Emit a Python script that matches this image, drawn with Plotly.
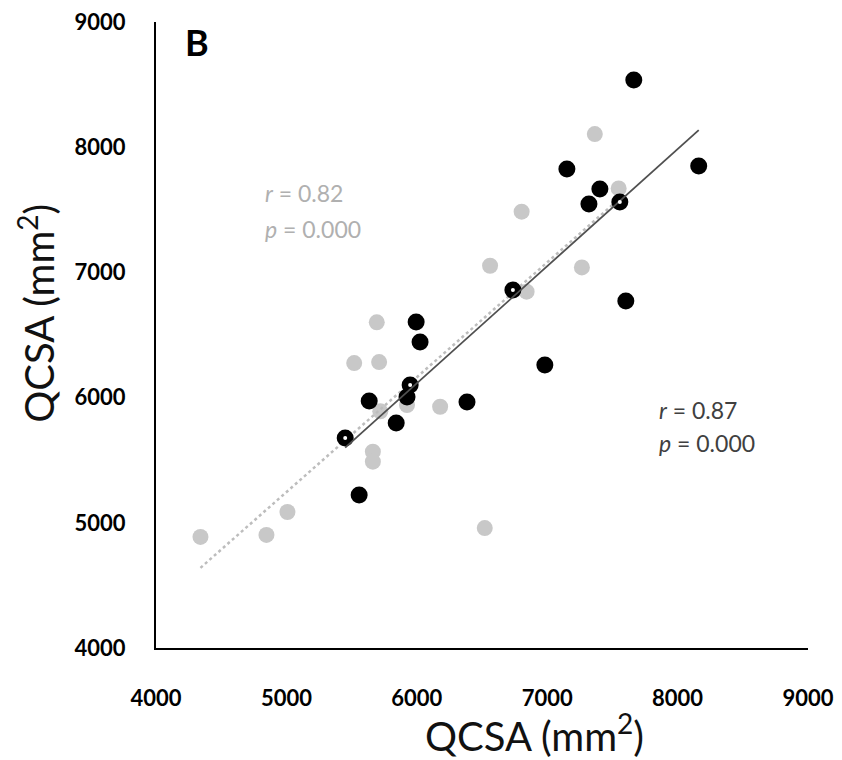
import numpy as np
import plotly.graph_objects as go

# Group 1 (black)
black_x = [7664, 7151, 7404, 7320, 7557, 8162, 7603, 6737, 6982, 5995, 6025, 5949, 5925, 5635, 5842, 5451, 5558, 6385]
black_y = [8537, 7826, 7666, 7546, 7562, 7850, 6772, 6859, 6260, 6604, 6444, 6101, 6005, 5973, 5797, 5677, 5222, 5965]
# points drawn with a small white centre
black_open = [4, 7, 11, 15]

# Group 2 (grey)
grey_x = [4341, 4847, 5008, 6521, 5663, 5663, 5520, 5711, 5693, 5720, 5925, 6179, 6562, 6842, 7266, 6804, 7365, 7548]
grey_y = [4887, 4903, 5086, 4958, 5568, 5488, 6276, 6284, 6601, 5890, 5941, 5927, 7053, 6846, 7040, 7485, 8105, 7671]

grey_stats = ["<i>r</i> = 0.82", "<i>p</i> = 0.000"]
black_stats = ["<i>r</i> = 0.87", "<i>p</i> = 0.000"]

axis_ticks = [4000, 5000, 6000, 7000, 8000, 9000]

GREY = "#c8c8c8"
FONT = "Lato"


def fit_line(xs, ys):
    b, a = np.polyfit(xs, ys, 1)
    lx = np.array([min(xs), max(xs)])
    return lx, a + b * lx


fig = go.Figure()

gx, gy = fit_line(grey_x, grey_y)
bx, by = fit_line(black_x, black_y)

fig.add_trace(go.Scatter(x=grey_x, y=grey_y, mode="markers",
                         marker=dict(color=GREY, size=16, line=dict(width=0)),
                         showlegend=False))
fig.add_trace(go.Scatter(x=gx, y=gy, mode="lines",
                         line=dict(color="#bdbdbd", width=2.5, dash="dot"),
                         showlegend=False))
fig.add_trace(go.Scatter(x=black_x, y=black_y, mode="markers",
                         marker=dict(color="black", size=17, line=dict(width=0)),
                         showlegend=False))
fig.add_trace(go.Scatter(x=bx, y=by, mode="lines",
                         line=dict(color="#505050", width=1.8),
                         showlegend=False))
fig.add_trace(go.Scatter(x=[black_x[i] for i in black_open],
                         y=[black_y[i] for i in black_open], mode="markers",
                         marker=dict(color="white", size=4, line=dict(width=0)),
                         showlegend=False))

axis_common = dict(
    range=[4000, 9000], tickvals=axis_ticks, showgrid=False, zeroline=False,
    showline=True, linecolor="black", linewidth=2, ticks="", automargin=False,
    tickfont=dict(family=FONT, size=22, color="black", weight="bold"),
    fixedrange=True,
)

fig.update_layout(
    width=842, height=760,
    margin=dict(l=156, r=34, t=22, b=112),
    paper_bgcolor="white", plot_bgcolor="white",
    xaxis=dict(**axis_common, ticklabelstandoff=30),
    yaxis=dict(**axis_common, ticklabelstandoff=24),
    font=dict(family=FONT),
)

ann = [
    dict(text="QCSA (mm<sup>2</sup>)", xref="paper", yref="paper", x=0.58, y=-0.136,
         showarrow=False, font=dict(size=40, color="#111111", family=FONT),
         xanchor="center", yanchor="middle"),
    dict(text="QCSA (mm<sup>2</sup>)", xref="paper", yref="paper", x=-0.183, y=0.535,
         showarrow=False, font=dict(size=40, color="#111111", family=FONT), textangle=-90,
         xanchor="center", yanchor="middle"),
    dict(text="<b>B</b>", xref="paper", yref="paper", x=0.042, y=0.968,
         showarrow=False, font=dict(size=36, color="black", family=FONT),
         xanchor="left", yanchor="middle"),
]
for i, t in enumerate(grey_stats):
    ann.append(dict(text=t, x=4823, y=[7634, 7347][i], xref="x", yref="y", showarrow=False,
                    xanchor="left", yanchor="middle",
                    font=dict(size=23, color="#b0b0b0", family=FONT)))
for i, t in enumerate(black_stats):
    ann.append(dict(text=t, x=7840, y=[5901, 5637][i], xref="x", yref="y", showarrow=False,
                    xanchor="left", yanchor="middle",
                    font=dict(size=23, color="#404040", family=FONT)))
fig.update_layout(annotations=ann)

fig.write_html("out.html", config={"displayModeBar": False},
               post_script="document.body.style.margin='0px';document.body.style.padding='0px';")
